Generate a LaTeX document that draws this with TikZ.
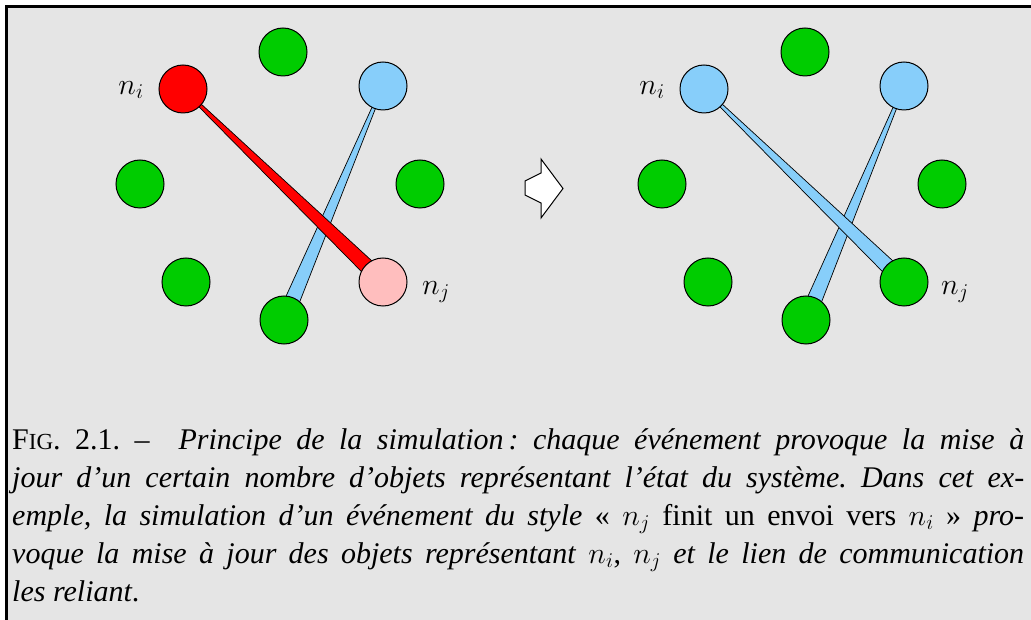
\RequirePackage{fix-cm}
\documentclass[tikz,border=0pt]{standalone}
\usepackage{fontspec}
\setmainfont{Liberation Serif}
\definecolor{siteGreen}{RGB}{0, 204, 0}
\definecolor{siteBlue}{RGB}{135, 206, 250}
\definecolor{siteRed}{RGB}{255, 0, 0}
\definecolor{sitePink}{RGB}{255, 190, 190}
\definecolor{frameGray}{RGB}{229, 229, 229}
\usetikzlibrary{calc, backgrounds}

% tapered link between two sites (thin at #1, wide at #2)
\newcommand{\lien}[3]{%
  \filldraw[link, fill=#3]
    ($(#1)!1.2pt!90:(#2)$) -- ($(#2)!8pt!-90:(#1)$) --
    ($(#2)!8pt!90:(#1)$) -- ($(#1)!1.2pt!-90:(#2)$) -- cycle;}

\begin{document}
\begin{tikzpicture}[
    x=1pt, y=-1pt,
    site/.style={circle, draw=black, line width=1pt, minimum size=48pt,
                 inner sep=0pt},
    link/.style={draw=black, line width=0.7pt},
    lbl/.style={font=\fontsize{30}{36}\selectfont, inner sep=0pt},
    caption/.style={anchor=base west, inner sep=0pt, text width=1012pt,
                    align=justify, font=\fontsize{30}{38}\selectfont\frenchspacing},
  ]
    \useasboundingbox (0,0) rectangle (1031,620);

    % Left: before the event
    \node[site, fill=siteGreen] (LT) at (283,52) {};
    \node[site, fill=siteRed] (Lni) at (183,89) {};
    \node[site, fill=siteBlue] (LB) at (383,86) {};
    \node[site, fill=siteGreen] (LW) at (140,184) {};
    \node[site, fill=siteGreen] (LE) at (420,184) {};
    \node[site, fill=siteGreen] (LSW) at (186,282) {};
    \node[site, fill=sitePink] (Lnj) at (383,282) {};
    \node[site, fill=siteGreen] (LS) at (284,320) {};
    \node[lbl] (Lli) at (131,90) {$n_i$};
    \node[lbl] (Llj) at (436,292) {$n_j$};

    % Right: after the event
    \node[site, fill=siteGreen] (RT) at (805,52) {};
    \node[site, fill=siteBlue] (Rni) at (704,89) {};
    \node[site, fill=siteBlue] (RB) at (904,86) {};
    \node[site, fill=siteGreen] (RW) at (662,184) {};
    \node[site, fill=siteGreen] (RE) at (942,184) {};
    \node[site, fill=siteGreen] (RSW) at (708,282) {};
    \node[site, fill=siteGreen] (Rnj) at (904,282) {};
    \node[site, fill=siteGreen] (RS) at (806,320) {};
    \node[lbl] (Rli) at (652,90) {$n_i$};
    \node[lbl] (Rlj) at (955,292) {$n_j$};

    % Step arrow
    \draw[fill=white, line width=1pt, line join=miter]
      (541,159) -- (541,173) -- (525,181) -- (525,195) -- (541,203)
      -- (541,218) -- (563,188.5) -- cycle;

    \begin{scope}[on background layer]
      \draw[fill=frameGray, line width=3pt] (6.5,6.5) rectangle (1060,650);
      \lien{LB}{LS}{siteBlue}
      \lien{Lni}{Lnj}{siteRed}
      \lien{RB}{RS}{siteBlue}
      \lien{Rni}{Rnj}{siteBlue}
    \end{scope}

    % Caption
    \node[caption] (CAP) at (12,449) {%
      F{\fontsize{23}{38}\selectfont IG}. 2.1. –\ \ \textit{Principe de la
      simulation\,: chaque événement provoque la mise à}\linebreak
      \textit{jour d'un certain nombre d'objets représentant l'état du
      système. Dans cet ex-}\linebreak
      \textit{emple, la simulation d'un événement du style} « $n_j$ finit
      un envoi vers $n_i$ » \textit{pro-}\linebreak
      \textit{voque la mise à jour des objets représentant} $n_i$,
      $n_j$ \textit{et le lien de communication}\linebreak
      \textit{les reliant}.};
  \end{tikzpicture}
\end{document}
